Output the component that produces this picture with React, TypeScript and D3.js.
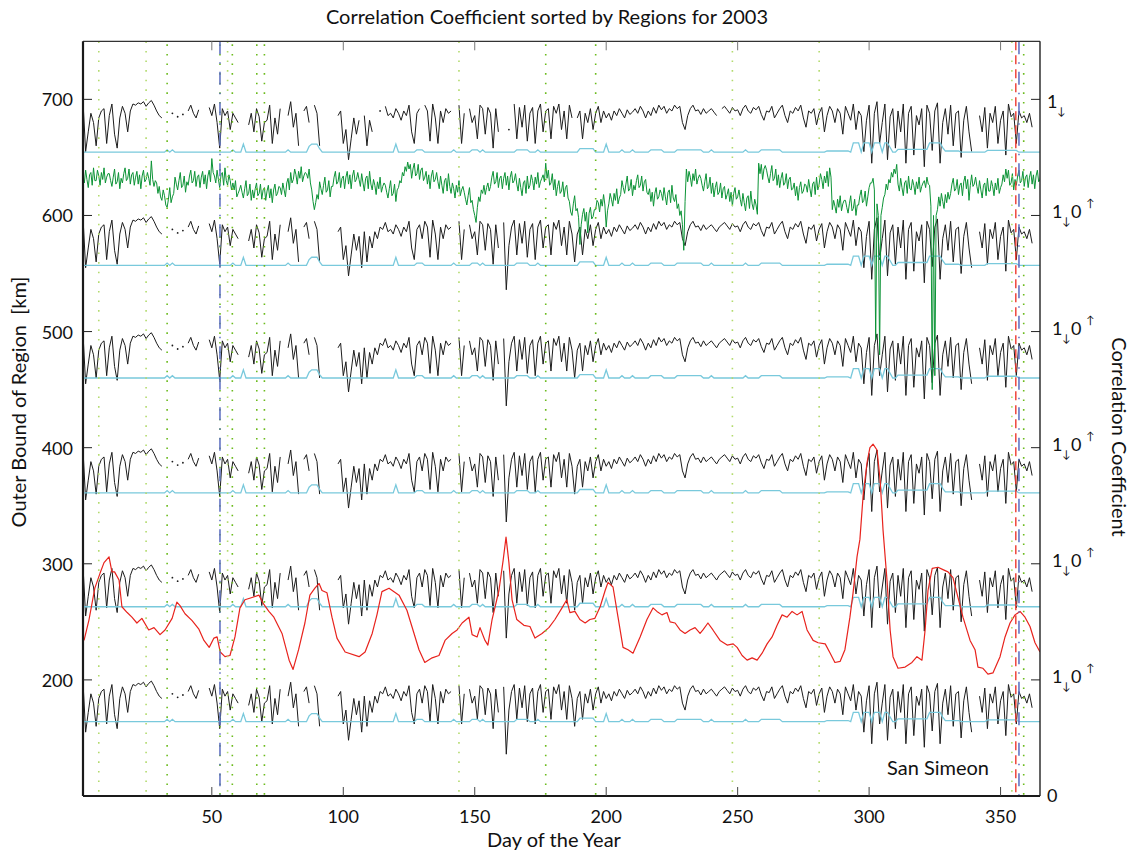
import React from "react";
import * as d3 from "d3";

const _ = null;

// Region outer bounds in km; each region owns a 100 km band (corr 0 at bottom, 1 at top)
const regionBounds = [700, 600, 500, 400, 300, 200];
const regionLabel = "San Simeon";

// Daily correlation coefficient (x100) shared by the region bands; null = no data
const corrDaily: (number | null)[] = [
  98, 55, 72, 88, 80, 60, 84, 90, 92, 62,
  86, 96, 70, 58, 84, 94, 88, 72, 90, 96,
  95, 97, 96, 98, 94, 97, 99, 95, 90, 86,
  84, _, _, _, 88, _, 85, _, 87, _,
  90, 95, 88, 84, 91, _, _, _, 93, 86,
  96, 80, 58, 92, 86, 90, 74, 88, 84, 80,
  _, _, _, 78, 88, 72, 92, 85, 64, 80,
  82, 95, 62, 84, 70, 92, _, _, 86, 98,
  76, 88, 60, _, 90, 94, 80, _, 95, 88,
  60, _, _, _, _, _, _, 86, 90, 62,
  74, 48, 66, 84, 70, 82, 55, 86, 60, 82,
  72, 86, 80, 90, 88, 94, 86, 88, 84, 92,
  88, 82, 90, 86, 95, 72, 62, 88, 92, 80,
  95, 90, 64, 96, 84, 62, 90, 80, 92, 88,
  90, _, _, 95, 62, 88, _, 92, 80, 86,
  66, 95, 92, 70, 93, 88, 58, 92, 72, _,
  94, 36, 74, 90, 96, 66, 93, 76, 95, 64,
  88, 93, 62, 90, 96, 72, 90, 92, 66, 94,
  88, 96, 74, 90, 66, 95, 84, 60, 84, 90,
  66, 88, 80, 92, 74, 88, 94, 80, 90, 84,
  88, 82, 90, 86, 92, 88, 84, 91, 87, 89,
  92, 88, 94, 90, 84, 90, 86, 93, 88, 95,
  91, 94, 88, 92, 90, 95, 92, 94, 80, 74,
  86, 92, 95, 90, 91, 87, 92, 88, 90, 92,
  89, 86, 90, 92, 94, 91, 88, 93, 90, 91,
  86, 92, 95, 90, 88, 93, 91, 94, 87, 82,
  90, 89, 94, 84, 88, 92, 95, 86, 80, 90,
  88, 93, 90, 95, 84, 76, 90, 88, 92, 78,
  88, 93, 72, 86, 94, 90, 80, 92, 88, 70,
  94, 88, 82, 96, 74, 90, 86, 55, 82, 95,
  45, 88, 98, 62, 80, 96, 48, 85, 92, 58,
  90, 72, 96, 45, 88, 94, 52, 86, 78, 92,
  42, 95, 88, 56, 90, 97, 45, 80, 92, 70,
  95, 60, 88, 90, 50, 82, 94, 72, 55, _,
  _, 86, 72, 93, 58, 88, 80, 94, 62, 82,
  90, 52, 96, 85, 88, 62, 90, 84, 86, 80,
  88, 76, _, _, _,
];

// Days without data in the outermost band only
const topBandMissing = [107, 112, 113, 115, 130, 161, 162, 164, 188, 243];

// Significance level per band (corr) and its daily raises
const thresholdBase = [0.545, 0.57, 0.6, 0.61, 0.63, 0.64];
const thresholdBumps: [number, number][] = [
  [33, 0.02], [35, 0.02], [58, 0.02], [62, 0.07], [79, 0.02],
  [87, 0.05], [88, 0.07], [89, 0.07], [90, 0.07], [91, 0.03],
  [120, 0.07], [128, 0.02], [129, 0.02], [130, 0.02], [142, 0.02],
  [149, 0.02], [150, 0.02], [151, 0.02], [153, 0.02],
  [166, 0.02], [167, 0.02], [168, 0.02], [169, 0.02], [170, 0.02], [174, 0.02],
  [190, 0.03], [191, 0.03], [192, 0.03], [193, 0.03], [194, 0.03], [195, 0.03],
  [200, 0.07], [206, 0.02], [210, 0.02],
  [217, 0.02], [218, 0.02], [219, 0.02], [220, 0.02], [221, 0.02],
  [227, 0.02], [228, 0.02], [229, 0.02], [230, 0.02], [231, 0.02], [232, 0.02],
  [233, 0.02], [234, 0.02], [235, 0.02], [236, 0.02], [240, 0.02], [253, 0.02],
  [259, 0.02], [260, 0.02], [261, 0.02], [262, 0.02], [263, 0.02], [264, 0.02],
  [265, 0.02], [266, 0.02],
  [284, 0.01], [285, 0.01], [286, 0.01], [287, 0.01], [288, 0.01], [289, 0.01],
  [290, 0.01], [291, 0.01], [292, 0.01],
  [294, 0.08], [295, 0.08], [296, 0.08], [298, 0.08], [299, 0.08], [300, 0.08],
  [302, 0.08], [303, 0.08], [304, 0.08], [306, 0.08], [307, 0.08], [308, 0.04],
  [311, 0.025], [312, 0.025], [313, 0.025], [314, 0.025], [315, 0.025], [316, 0.025],
  [317, 0.025], [318, 0.025], [319, 0.025], [320, 0.025], [321, 0.025], [322, 0.025],
  [323, 0.08], [324, 0.08], [325, 0.08], [326, 0.08], [327, 0.08], [328, 0.04],
  [329, 0.01], [330, 0.01], [331, 0.01], [332, 0.01], [333, 0.01], [334, 0.01],
  [345, 0.015], [346, 0.015], [347, 0.015], [348, 0.015], [349, 0.015], [350, 0.015],
  [351, 0.015], [352, 0.015], [353, 0.015], [354, 0.015], [355, 0.015], [356, 0.015],
];

// Green series (km), two samples per day starting at day 1
const greenStep = 0.5;
const greenKm = [
  634, 628, 639, 631, 624, 635, 637, 626, 641, 630,
  630, 639, 634, 626, 637, 631, 641, 628, 633, 636,
  636, 630, 625, 633, 640, 627, 629, 637, 623, 632,
  628, 636, 641, 630, 632, 640, 627, 635, 637, 626,
  633, 638, 627, 635, 623, 634, 639, 629, 631, 637,
  632, 626, 647, 631, 625, 630, 628, 619, 625, 616,
  613, 622, 617, 609, 607, 614, 624, 611, 616, 619,
  633, 627, 622, 630, 637, 624, 626, 634, 620, 629,
  626, 634, 639, 628, 630, 638, 625, 633, 635, 624,
  633, 638, 627, 635, 623, 634, 639, 629, 649, 637,
  634, 628, 639, 631, 624, 635, 637, 626, 641, 630,
  626, 635, 630, 622, 628, 622, 630, 616, 619, 622,
  626, 620, 615, 623, 630, 617, 619, 627, 613, 622,
  615, 623, 628, 617, 619, 627, 614, 622, 624, 613,
  621, 626, 615, 623, 611, 622, 627, 617, 619, 625,
  624, 618, 628, 622, 616, 628, 632, 622, 637, 628,
  631, 640, 635, 627, 638, 632, 642, 629, 634, 637,
  636, 632, 640, 628, 622, 612, 605, 611, 618, 614,
  629, 623, 618, 626, 633, 620, 622, 630, 616, 625,
  625, 633, 638, 627, 629, 637, 624, 632, 634, 623,
  633, 638, 627, 635, 623, 634, 639, 629, 631, 637,
  631, 625, 636, 628, 621, 632, 634, 623, 638, 627,
  622, 631, 626, 618, 629, 623, 633, 620, 625, 628,
  626, 620, 615, 623, 630, 617, 619, 627, 612, 622,
  624, 630, 628, 637, 634, 642, 638, 646, 640, 644,
  632, 640, 645, 634, 636, 644, 631, 639, 641, 630,
  633, 638, 627, 635, 623, 634, 639, 629, 631, 637,
  629, 623, 634, 626, 619, 630, 632, 621, 636, 625,
  619, 628, 623, 615, 626, 620, 630, 617, 622, 625,
  620, 614, 609, 617, 624, 611, 613, 605, 600, 594,
  607, 616, 612, 622, 619, 626, 618, 624, 628, 621,
  625, 633, 638, 627, 629, 637, 624, 632, 634, 623,
  632, 637, 626, 634, 622, 633, 638, 628, 630, 636,
  627, 621, 632, 624, 617, 628, 630, 619, 634, 623,
  626, 635, 630, 622, 633, 627, 637, 624, 629, 632,
  635, 629, 645, 632, 639, 626, 628, 636, 622, 631,
  617, 625, 630, 619, 621, 629, 616, 624, 626, 615,
  612, 603, 600, 610, 617, 604, 606, 598, 575, 592,
  601, 606, 595, 603, 585, 602, 607, 597, 599, 605,
  605, 613, 611, 603, 614, 608, 618, 609, 590, 604,
  610, 619, 614, 608, 619, 613, 623, 610, 615, 618,
  630, 624, 619, 627, 634, 621, 623, 631, 617, 626,
  622, 630, 635, 624, 626, 634, 621, 629, 631, 620,
  618, 623, 612, 620, 608, 619, 624, 614, 616, 622,
  619, 613, 624, 616, 609, 620, 622, 611, 626, 615,
  612, 618, 606, 610, 600, 604, 592, 570, 612, 640,
  629, 638, 633, 625, 636, 630, 640, 627, 632, 635,
  632, 626, 621, 629, 636, 623, 625, 633, 619, 628,
  616, 624, 629, 618, 620, 628, 615, 623, 625, 614,
  618, 623, 612, 620, 608, 619, 624, 614, 616, 622,
  614, 608, 619, 611, 604, 615, 617, 606, 621, 610,
  605, 614, 609, 601, 645, 636, 644, 631, 640, 643,
  639, 633, 628, 636, 643, 630, 632, 640, 626, 635,
  624, 632, 637, 626, 628, 636, 623, 631, 633, 622,
  623, 628, 617, 625, 613, 624, 629, 619, 621, 627,
  626, 620, 631, 623, 616, 627, 629, 618, 633, 622,
  627, 636, 631, 623, 634, 628, 638, 625, 641, 633,
  605, 613, 608, 602, 614, 607, 617, 604, 610, 613,
  613, 607, 602, 610, 617, 604, 606, 614, 600, 609,
  609, 617, 622, 611, 613, 621, 608, 616, 624, 628,
  628, 632, 622, 493, 610, 600, 480, 600, 607, 615,
  618, 627, 622, 631, 628, 637, 633, 640, 636, 644,
  627, 621, 632, 624, 617, 628, 630, 619, 634, 623,
  622, 631, 626, 618, 629, 623, 633, 620, 625, 628,
  630, 624, 633, 627, 626, 608, 450, 600, 462, 600,
  605, 616, 608, 619, 612, 606, 618, 611, 620, 614,
  619, 627, 632, 621, 623, 631, 618, 626, 628, 617,
  629, 634, 623, 631, 613, 626, 635, 625, 627, 633,
  625, 619, 630, 622, 615, 626, 628, 617, 632, 621,
  621, 630, 625, 617, 628, 622, 632, 619, 624, 627,
  635, 629, 640, 632, 639, 626, 628, 636, 622, 631,
  626, 634, 639, 628, 630, 638, 625, 633, 635, 624,
  633, 638, 627, 635, 623, 634, 639, 629, 631, 637,
];

// Red series: day of year and value (km)
const redDays = [
  1.4, 3.3, 5.5, 7.5, 9, 10.9, 12, 13, 14.7, 15.8, 17.8, 19.6, 21.5, 23.4, 26, 28, 30.3, 32.2,
  34.9, 36.7, 37.9, 39.8, 42.5, 45, 47, 49, 50.8, 52, 53.2, 55, 56.9, 58.8, 60.7, 62.6, 65.3,
  67.9, 69.8, 71.7, 73.6, 76.7, 79.4, 80.9, 83, 85.4, 87.3, 89.2, 90.8, 91.9, 93.8, 95.7, 97.6,
  100.7, 106, 108.3, 111, 112.8, 114.7, 117.4, 119.3, 121.2, 124.2, 126.1, 128.8, 131, 133.8,
  136.4, 138.7, 141.4, 143.3, 145.2, 147.8, 149, 150.9, 152, 153.9, 155, 156.6, 159.2, 160.8,
  161.9, 163, 164.2, 166, 168.7, 171, 172.9, 175.6, 178.2, 180.5, 183.2, 185, 186.2, 188.1,
  190, 192, 193.8, 195.7, 197.7, 199.6, 200.7, 202.6, 204.5, 206.4, 208.3, 210.2, 212.9,
  215.5, 217.8, 219.3, 221.2, 223.1, 224.3, 226.2, 228.1, 230, 231.9, 233.8, 235.7, 236.8,
  238.7, 240.6, 243.3, 246, 248.3, 249.8, 251.7, 253.6, 255.5, 257.4, 259.3, 261.2, 263.1,
  265, 266.9, 268.8, 270.7, 272.6, 274.5, 276.4, 278.7, 280.6, 283.3, 285.2, 287, 289, 290.8,
  292.7, 293.9, 295.4, 296.5, 297.7, 299.2, 300.3, 301.5, 303, 304.2, 305.3, 306.8, 308,
  309.1, 311, 313.7, 316.3, 318.2, 320.1, 321.3, 322.4, 324, 326.2, 328.1, 330, 331.9, 333.8,
  335.7, 338.4, 340.3, 341.4, 343.3, 345.2, 347.1, 349.8, 351.7, 353.6, 355.5, 357.4, 359.3,
  361.2, 363.1, 365,
];
const redKm = [
  234, 252, 279, 292, 301, 306, 293, 293, 286, 263, 258, 254, 249, 253, 243, 245, 239, 243,
  253, 267, 264, 257, 251, 244, 234, 228, 236, 237, 224, 220, 221, 237, 262, 269, 271,
  273, 265, 259, 254, 240, 217, 209, 226, 249, 273, 279, 283, 277, 275, 254, 236,
  224, 220, 224, 240, 256, 276, 279, 276, 273, 260, 246, 226, 215, 219,
  221, 234, 240, 243, 249, 254, 239, 237, 245, 234, 230, 252, 277, 303,
  323, 301, 269, 252, 247, 246, 236, 240, 245, 252, 262, 269, 258, 259,
  252, 249, 252, 253, 263, 277, 284, 280, 254, 228, 226, 223, 237,
  252, 262, 259, 256, 258, 250, 249, 243, 240, 243, 245, 240, 243,
  249, 243, 234, 230, 231, 228, 221, 217, 219, 217, 223, 231, 237,
  247, 256, 254, 259, 256, 259, 243, 234, 232, 231, 223, 215, 216, 226,
  254, 275, 306, 321, 358, 387, 400, 403, 398, 372, 329, 286, 243,
  220, 210, 211, 215, 220, 217, 243, 277, 296, 297, 295, 293, 288, 271,
  254, 234, 226, 211, 210, 205, 206, 220, 237, 249, 256, 259, 254,
  246, 232, 224,
];

// Event markers (day of year)
const lightMarkers = [7, 25, 56, 144, 248, 281, 354.3];
const greenMarkers = [33, 53.1, 57.8, 67.1, 70, 177, 196, 358.8];
const blueMarkers = [53.1, 357];
const redMarkers = [355.8];

const xTicks = [50, 100, 150, 200, 250, 300, 350];
const yTicks = [200, 300, 400, 500, 600, 700];

const FONT = "Lato, 'DejaVu Sans', sans-serif";

export default function App() {
  const left = 83, right = 1040, top = 41.3, bottom = 796;
  const x = d3.scaleLinear().domain([1, 365]).range([left, right]);
  const y = d3.scaleLinear().domain([100, 750]).range([bottom, top]);

  const bumpMap = new Map<number, number>(thresholdBumps);
  const days = d3.range(1, 366);

  const bandKm = (k: number, c: number) => regionBounds[k] - 100 + 100 * c;

  const lineXY = d3
    .line<[number, number | null]>()
    .defined((d) => d[1] != null)
    .x((d) => x(d[0]))
    .y((d) => y(d[1] as number));

  const blackBands = regionBounds.map((_b, k) => {
    const pts: [number, number | null][] = days.map((d, i) => {
      const v = corrDaily[i];
      if (v == null || (k === 0 && topBandMissing.includes(d))) return [d, null];
      return [d, bandKm(k, v / 100)];
    });
    const isolated = pts.filter(
      (p, i) => p[1] != null && (i === 0 || pts[i - 1][1] == null) && (i === pts.length - 1 || pts[i + 1][1] == null)
    );
    return { path: lineXY(pts) || "", isolated };
  });

  const cyanBands = regionBounds.map((_b, k) =>
    lineXY(days.map((d) => [d, bandKm(k, thresholdBase[k] + (bumpMap.get(d) ?? 0))])) || ""
  );

  const greenPath = lineXY(greenKm.map((v, i) => [1 + i * greenStep, v])) || "";
  const redPath = lineXY(redDays.map((d, i) => [d, redKm[i]])) || "";

  const tickYs = [700, 600, 500, 400, 300, 200];

  return (
    <svg width={1133} height={856} style={{ position: "absolute", left: 0, top: 0, background: "#fff" }} fontFamily={FONT}>
      <rect x={0} y={0} width={1133} height={856} fill="#fff" />
      <text x={547} y={24} textAnchor="middle" fontSize={20} fill="#111">
        Correlation Coefficient sorted by Regions for 2003
      </text>

      <defs>
        <clipPath id="plotClip">
          <rect x={left} y={top} width={right - left} height={bottom - top} />
        </clipPath>
      </defs>

      <g clipPath="url(#plotClip)">
        {blackBands.map((b, k) => (
          <g key={"b" + k}>
            <path d={b.path} fill="none" stroke="#1c1c1c" strokeWidth={1} strokeLinejoin="round" />
            {b.isolated.map((p, j) => (
              <circle key={j} cx={x(p[0])} cy={y(p[1] as number)} r={0.9} fill="#1c1c1c" />
            ))}
          </g>
        ))}
        {cyanBands.map((p, k) => (
          <path key={"c" + k} d={p} fill="none" stroke="#79c9dc" strokeWidth={1.3} />
        ))}
        <path d={greenPath} fill="none" stroke="#0c9336" strokeWidth={1} strokeLinejoin="round" />
        <path d={redPath} fill="none" stroke="#e8231d" strokeWidth={1.2} strokeLinejoin="round" />

        {lightMarkers.map((d) => (
          <line key={"l" + d} x1={x(d)} x2={x(d)} y1={top} y2={bottom} stroke="#b3db6e" strokeWidth={1.6} strokeDasharray="1.6,8" />
        ))}
        {greenMarkers.map((d) => (
          <line key={"g" + d} x1={x(d)} x2={x(d)} y1={top + 3} y2={bottom} stroke="#6cbb1e" strokeWidth={1.6} strokeDasharray="1.6,8" />
        ))}
        {redMarkers.map((d) => (
          <line key={"r" + d} x1={x(d)} x2={x(d)} y1={top} y2={bottom} stroke="#ee3a30" strokeWidth={1.4} strokeDasharray="9,5" />
        ))}
        {blueMarkers.map((d) => (
          <line key={"bl" + d} x1={x(d)} x2={x(d)} y1={top} y2={bottom} stroke="#5a6cc0" strokeWidth={1.5} strokeDasharray="13,8,1.5,8" />
        ))}
      </g>

      {/* axes box */}
      <line x1={left} x2={right} y1={top} y2={top} stroke="#333" strokeWidth={1.2} />
      <line x1={right} x2={right} y1={top} y2={bottom} stroke="#222" strokeWidth={1.4} />
      <line x1={left} x2={left} y1={top} y2={bottom} stroke="#1a1a1a" strokeWidth={2.2} />
      <line x1={left} x2={right} y1={bottom} y2={bottom} stroke="#1a1a1a" strokeWidth={2} />

      {xTicks.map((t) => (
        <g key={"xt" + t}>
          <line x1={x(t)} x2={x(t)} y1={bottom} y2={bottom - 9} stroke="#444" strokeWidth={1} />
          <line x1={x(t)} x2={x(t)} y1={top} y2={top + 9} stroke="#777" strokeWidth={1} />
          <text x={x(t)} y={823} textAnchor="middle" fontSize={18} fill="#111">{t}</text>
        </g>
      ))}
      {yTicks.map((t) => (
        <g key={"yt" + t}>
          <line x1={left} x2={left + 9} y1={y(t)} y2={y(t)} stroke="#222" strokeWidth={1} />
          <text x={73} y={y(t) + 7} textAnchor="end" fontSize={18} fill="#111">{t}</text>
        </g>
      ))}

      {/* right-hand correlation scale */}
      {tickYs.map((t, k) => {
        const ty = y(t);
        return (
          <g key={"rt" + t}>
            <line x1={right} x2={right - 9} y1={ty} y2={ty} stroke="#222" strokeWidth={1} />
            {k === 0 ? (
              <g>
                <text x={1047} y={ty + 9} fontSize={18} fill="#111">1</text>
                <text x={1057} y={ty + 16} fontSize={11} fill="#111">↓</text>
              </g>
            ) : (
              <g>
                <text x={1052} y={ty + 3} fontSize={18} fill="#111">1</text>
                <text x={1062} y={ty + 10} fontSize={11} fill="#111">↓</text>
                <text x={1071} y={ty + 3} fontSize={18} fill="#111">0</text>
                <text x={1086} y={ty - 8} fontSize={11} fill="#111">↑</text>
              </g>
            )}
          </g>
        );
      })}
      <text x={1047} y={y(100) + 6} fontSize={18} fill="#111">0</text>

      <text x={887} y={775} fontSize={20} fill="#111">{regionLabel}</text>

      <text x={554} y={847} textAnchor="middle" fontSize={20} fill="#111">Day of the Year</text>
      <text transform="translate(26,402) rotate(-90)" textAnchor="middle" fontSize={20} fill="#111" style={{ whiteSpace: "pre" }}>
        {"Outer Bound of Region  [km]"}
      </text>
      <text transform="translate(1112,437) rotate(90)" textAnchor="middle" fontSize={20} fill="#111">
        Correlation Coefficient
      </text>
    </svg>
  );
}
